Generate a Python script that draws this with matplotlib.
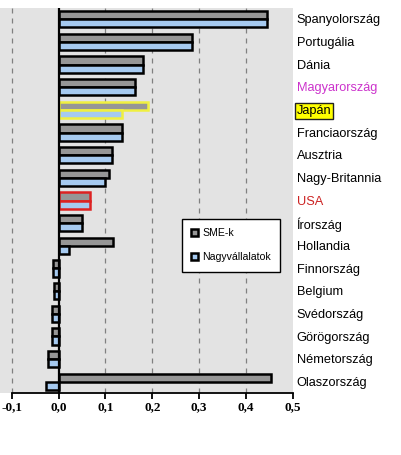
import matplotlib
matplotlib.use("Agg")
import matplotlib.pyplot as plt
import numpy as np

# countries, top to bottom
countries = ["Spanyolország", "Portugália", "Dánia", "Magyarország", "Japán",
             "Franciaország", "Ausztria", "Nagy-Britannia", "USA", "Írország",
             "Hollandia", "Finnország", "Belgium", "Svédország", "Görögország",
             "Németország", "Olaszország"]
sme = [0.445, 0.285, 0.179, 0.164, 0.190, 0.136, 0.113, 0.107, 0.066, 0.049,
       0.115, -0.011, -0.010, -0.014, -0.014, -0.022, 0.454]
nagy = [0.445, 0.285, 0.179, 0.164, 0.135, 0.136, 0.113, 0.098, 0.066, 0.049,
        0.023, -0.011, -0.010, -0.014, -0.014, -0.022, -0.027]
xticks = [-0.1, 0.0, 0.1, 0.2, 0.3, 0.4, 0.5]
xticklabels = ["-0,1", "0,0", "0,1", "0,2", "0,3", "0,4", "0,5"]

plt.rcParams['font.family'] = ['Liberation Sans', 'DejaVu Sans']

fig = plt.figure(figsize=(4.02, 4.55), dpi=100)
ax = fig.add_axes([0.0, 1 - 393 / 455, 293 / 402, 385 / 455])
ax.set_facecolor("#e3e3e3")

y = np.arange(len(countries))
h = 0.36
edge_sme = ["black"] * len(countries)
edge_nagy = ["black"] * len(countries)
edge_sme[4] = edge_nagy[4] = "#f0f040"
edge_sme[8] = edge_nagy[8] = "#dd2222"

ax.barh(y - h / 2, sme, height=h, color="#969696", edgecolor=edge_sme, linewidth=1.8,
        label="SME-k", zorder=3)
ax.barh(y + h / 2, nagy, height=h, color="#a6caf0", edgecolor=edge_nagy, linewidth=1.8,
        label="Nagyvállalatok", zorder=3)

ax.set_xlim(-0.125, 0.5)
ax.set_ylim(len(countries) - 0.5, -0.5)

for xv in [-0.1, 0.1, 0.2, 0.3, 0.4]:
    ax.axvline(xv, color="#808080", linestyle=(0, (4, 4)), linewidth=0.9, zorder=1)
ax.axvline(0, color="black", linewidth=1.6, zorder=4)

for s in ["top", "right", "left"]:
    ax.spines[s].set_visible(False)
ax.spines["bottom"].set_bounds(-0.1, 0.5)
ax.spines["bottom"].set_linewidth(1.3)

ax.set_xticks(xticks)
ax.set_xticklabels(xticklabels, fontfamily="Liberation Serif", fontweight="bold", fontsize=9.5)
ax.tick_params(axis="x", direction="out", length=4, width=1.3, pad=2)
ax.set_yticks([])

colors = ["black"] * len(countries)
colors[3] = "#cc33cc"
colors[8] = "#cc2222"
for i, name in enumerate(countries):
    kw = {}
    if name == "Japán":
        kw["bbox"] = dict(boxstyle="square,pad=0.15", facecolor="#ffff00", edgecolor="#222222", linewidth=1)
    ax.text(1.012, i + 0.05, name, transform=ax.get_yaxis_transform(), fontsize=9.2,
            color=colors[i], va="center", ha="left", **kw)

leg = ax.legend(loc="upper left", bbox_to_anchor=(182 / 293, 1 - (219 - 8) / 385),
                frameon=True, fancybox=False, fontsize=7.6, handlelength=0.6, handleheight=0.6,
                borderpad=0.9, labelspacing=1.3, handletextpad=0.4, borderaxespad=0)
leg.get_frame().set_edgecolor("black")
leg.get_frame().set_linewidth(1)
leg.get_frame().set_facecolor("white")
leg.get_frame().set_alpha(1)

fig.savefig("out.png", dpi=100)
